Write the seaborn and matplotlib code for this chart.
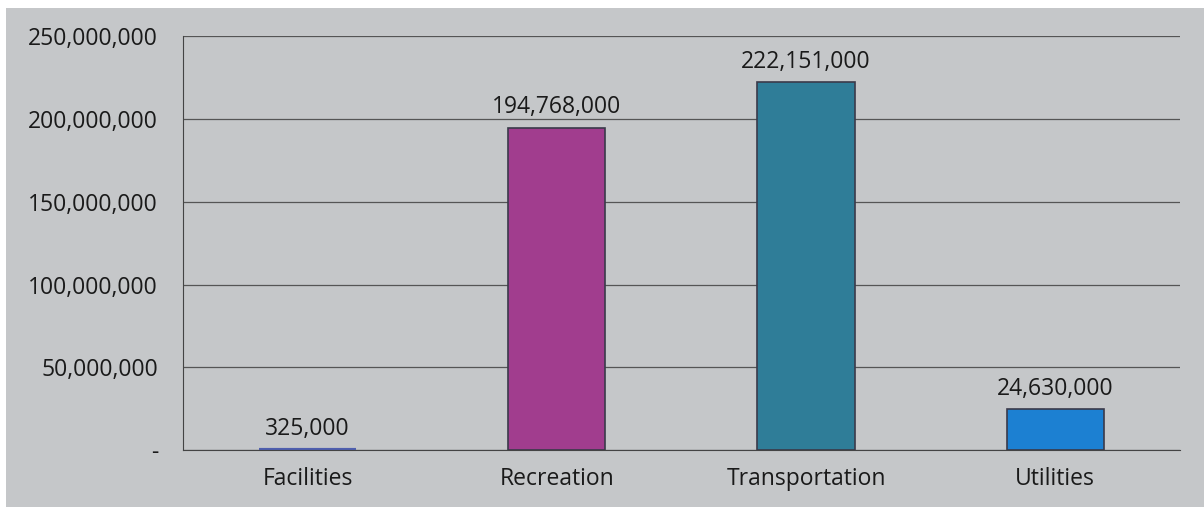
import numpy as np
import pandas as pd
import matplotlib
matplotlib.use("Agg")
import matplotlib.pyplot as plt
import seaborn as sns
from matplotlib.ticker import FuncFormatter, MultipleLocator
from matplotlib.patches import Rectangle

categories = ["Facilities", "Recreation", "Transportation", "Utilities"]
amounts = [325000, 194768000, 222151000, 24630000]
bar_colors = ["#4f5fae", "#a13d8e", "#2f7d98", "#1c80d2"]

df = pd.DataFrame({"category": categories, "amount": amounts})

sns.set_style("white")
plt.rcParams["font.family"] = ["Open Sans", "DejaVu Sans"]

bg = "#c5c7c9"
fig, ax = plt.subplots(figsize=(12.04, 5.07), dpi=100)
fig.patch.set_facecolor(bg)
ax.set_facecolor(bg)

# white scan margin at top and left
fig.patches.append(Rectangle((0, 0.984), 1, 0.016, transform=fig.transFigure,
                             facecolor="white", edgecolor="none", zorder=0))
fig.patches.append(Rectangle((0, 0), 0.005, 1, transform=fig.transFigure,
                             facecolor="white", edgecolor="none", zorder=0))

sns.barplot(data=df, x="category", y="amount", hue="category",
            palette=bar_colors, width=0.39, legend=False, ax=ax,
            edgecolor="#3a3a4a", linewidth=1.2, saturation=1)

# tiny facilities bar: make it show as a thin blue strip like the original
ax.patches[0].set_edgecolor(bar_colors[0])
ax.patches[0].set_linewidth(3)

for i, v in enumerate(amounts):
    ax.text(i, v + 5e6, f"{v:,}", ha="center", va="bottom",
            fontsize=16.5, color="#1a1a1a")

ax.set_ylim(0, 250e6)
ax.set_xlim(-0.5, 3.5)
ax.yaxis.set_major_locator(MultipleLocator(50e6))
ax.yaxis.set_major_formatter(FuncFormatter(lambda v, p: "-" if v == 0 else f"{int(v):,}"))
ax.yaxis.grid(True, color="#555555", linewidth=0.9)
ax.set_axisbelow(True)
ax.set_xlabel("")
ax.set_ylabel("")

for s in ["top", "right"]:
    ax.spines[s].set_visible(False)
ax.spines["left"].set_color("#444444")
ax.spines["bottom"].set_color("#444444")

ax.set_xticks(np.arange(len(categories)))
ax.set_xticklabels(categories)
ax.set_xticks(np.arange(-0.5, len(categories), 1), minor=True)
ax.tick_params(axis="x", which="major", length=0, pad=12, labelsize=16.5, colors="#1a1a1a")
ax.tick_params(axis="x", which="minor", length=5, direction="out", color="#444444")
ax.tick_params(axis="y", length=8, direction="out", color="#444444", labelsize=16.5,
               labelcolor="#1a1a1a", pad=10)

plt.subplots_adjust(left=0.152, right=0.980, top=0.929, bottom=0.112)
plt.savefig("out.png", facecolor=bg)
